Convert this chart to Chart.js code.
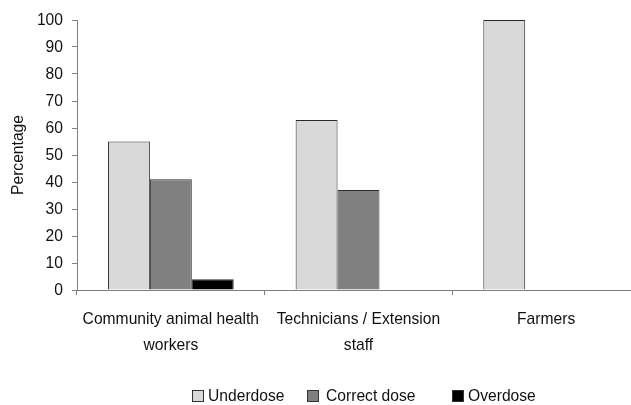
<!DOCTYPE html>
<html>
<head>
<meta charset="utf-8">
<script src="https://cdn.jsdelivr.net/npm/chart.js@4.4.1/dist/chart.umd.min.js"></script>
<style>
  html, body { margin: 0; padding: 0; background: #ffffff; overflow: hidden; }
  #wrap { position: relative; width: 640px; height: 405px; }
  #legend {
    position: absolute; left: 0; top: 385px; width: 631px; height: 22px;
    font-family: "Liberation Sans", Arial, sans-serif;
    font-size: 17px; color: #111;
  }
  .box { position: absolute; top: 5px; width: 10px; height: 10px; border: 1px solid #333; box-sizing: content-box; }
  .txt { position: absolute; top: 0; line-height: 21px; white-space: nowrap; transform: scaleX(0.92); transform-origin: 0 50%; }
</style>
</head>
<body>
<div id="wrap">
  <canvas id="c" width="640" height="405"></canvas>
  <div id="legend"></div>
</div>
<script>
const categories = [["Community animal health", "workers"], ["Technicians / Extension", "staff"], "Farmers"];
const seriesNames = ["Underdose", "Correct dose", "Overdose"];
const underdose = [55, 63, 100];
const correctDose = [41, 37, 0];
const overdose = [4, 0, 0];
const yTicks = [0, 10, 20, 30, 40, 50, 60, 70, 80, 90, 100];

const colors = ["#d9d9d9", "#808080", "#000000"];
const FONT = "'Liberation Sans', Arial, sans-serif";
const TEXT_STRETCH = 0.92; // slightly narrowed lettering

// draws every canvas label with slightly condensed glyphs
const narrowText = {
  id: "narrowText",
  beforeDraw(chart) {
    const ctx = chart.ctx;
    if (ctx.__narrow) return;
    const base = CanvasRenderingContext2D.prototype.fillText;
    ctx.fillText = function (text, x, y, maxWidth) {
      this.save();
      this.translate(x, y);
      this.scale(TEXT_STRETCH, 1);
      if (maxWidth === undefined) base.call(this, text, 0, 0);
      else base.call(this, text, 0, 0, maxWidth / TEXT_STRETCH);
      this.restore();
    };
    ctx.__narrow = true;
  }
};

const values = [underdose, correctDose, overdose];
const datasets = seriesNames.map((name, i) => ({
  label: name,
  data: values[i],
  backgroundColor: colors[i],
  borderColor: "#2b2b2b",
  borderWidth: 1,
  borderSkipped: "bottom",
  categoryPercentage: 0.67,
  barPercentage: 1.0
}));

new Chart(document.getElementById("c"), {
  type: "bar",
  data: { labels: categories, datasets },
  plugins: [narrowText],
  options: {
    responsive: false,
    animation: false,
    layout: { padding: { top: 20, left: 0, right: 0, bottom: 0 } },
    plugins: { legend: { display: false }, tooltip: { enabled: false } },
    scales: {
      x: {
        offset: true,
        grid: { display: true, drawOnChartArea: false, drawTicks: true, tickLength: 5, color: "#7f7f7f", offset: true },
        border: { display: true, color: "#7f7f7f", width: 1 },
        ticks: {
          color: "#111",
          font: { family: FONT, size: 17, lineHeight: 1.5 },
          padding: 12,
          maxRotation: 0, autoSkip: false
        },
        afterFit: s => { s.height = 115; }
      },
      y: {
        min: 0, max: 100,
        afterBuildTicks: s => { s.ticks = yTicks.map(v => ({ value: v })); },
        grid: { display: true, drawOnChartArea: false, drawTicks: true, tickLength: 5, color: "#7f7f7f" },
        border: { display: true, color: "#7f7f7f", width: 1 },
        ticks: { color: "#111", font: { family: FONT, size: 17 }, padding: 9 },
        title: { display: true, text: "Percentage", color: "#111", font: { family: FONT, size: 17 }, padding: { top: 8, bottom: 0 } },
        afterFit: s => { s.width = 77; }
      }
    }
  }
});

// legend row below the chart
const legend = document.getElementById("legend");
const boxLeft = [192, 307, 452];
const textLeft = [208, 326, 468];
seriesNames.forEach((name, i) => {
  const b = document.createElement("span");
  b.className = "box";
  b.style.left = boxLeft[i] + "px";
  b.style.background = colors[i];
  legend.appendChild(b);
  const t = document.createElement("span");
  t.className = "txt";
  t.style.left = textLeft[i] + "px";
  t.textContent = name;
  legend.appendChild(t);
});
</script>
</body>
</html>
